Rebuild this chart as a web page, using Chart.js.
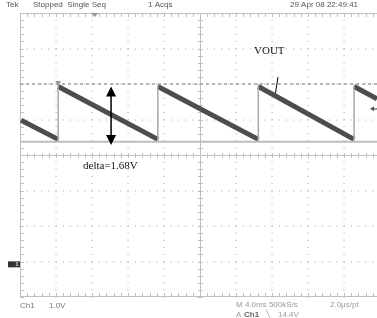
<!DOCTYPE html>
<html>
<head>
<meta charset="utf-8">
<script src="https://cdn.jsdelivr.net/npm/chart.js@4/dist/chart.umd.min.js"></script>
<style>
  html, body { margin: 0; padding: 0; background: #fff; }
  #wrap { width: 377px; height: 318px; }
</style>
</head>
<body>
<div id="wrap"><canvas id="scope" width="377" height="318"></canvas></div>
<script>
// screen: 10 divisions across (only ~9.9 visible), 8 divisions tall, values in divisions
const xDivs = 9.917;
const yDivs = 4;

// falling ramps of VOUT (start / end, in divisions)
const rampStartX = [0.03, 1.06, 3.83, 6.62, 9.28];
const rampEndX   = [1.06, 3.83, 6.62, 9.28, 9.917];
const rampStartV = [0.98, 1.93, 1.93, 1.93, 1.93];
const rampEndV   = [0.44, 0.44, 0.44, 0.44, 1.58];

// vertical reset edges
const riseX = [1.06, 3.83, 6.62, 9.28];
const riseLow = 0.40;
const riseHigh = 1.98;

// cursors
const cursorTop = 2.0;
const cursorBottom = 0.37;

// delta arrow
const arrowX = 2.53;
const arrowTop = 1.93;
const arrowBottom = 0.28;
const deltaLabel = "delta=1.68V";
const traceLabel = "VOUT";

const header = ["Tek", "Stopped  Single Seq", "1 Acqs", "29 Apr 08 22:49:41"];

function rampPoints() {
  const pts = [];
  for (let i = 0; i < rampStartX.length; i++) {
    pts.push({ x: rampStartX[i], y: rampStartV[i] });
    pts.push({ x: rampEndX[i], y: rampEndV[i] });
    pts.push({ x: rampEndX[i], y: null });
  }
  return pts;
}

function risePoints() {
  const pts = [];
  riseX.forEach(x => {
    pts.push({ x, y: riseLow });
    pts.push({ x, y: riseHigh });
    pts.push({ x, y: null });
  });
  return pts;
}

const graticule = {
  id: "graticule",
  beforeDatasetsDraw(chart) {
    const { ctx, chartArea: a } = chart;
    const xs = chart.scales.x, ys = chart.scales.y;
    ctx.save();
    // dotted division lines
    ctx.fillStyle = "#b0b0b0";
    for (let d = 1; d < 10; d++) {
      const px = Math.round(xs.getPixelForValue(d));
      if (d === 5) continue;
      for (let s = 0; s <= 40; s++) {
        const py = ys.getPixelForValue(-4 + s * 0.2);
        ctx.fillRect(px - 0.5, py - 0.5, 1.1, 1.1);
      }
    }
    for (let v = -3; v <= 3; v++) {
      if (v === 0) continue;
      const py = Math.round(ys.getPixelForValue(v));
      for (let s = 0; s <= 50; s++) {
        const px = xs.getPixelForValue(s * 0.2);
        if (px > a.right) break;
        ctx.fillRect(px - 0.5, py - 0.5, 1.1, 1.1);
      }
    }
    // center cross and frame
    ctx.strokeStyle = "#c0c0c0";
    ctx.lineWidth = 1;
    const cx = Math.round(xs.getPixelForValue(5)) + 0.5;
    const cy = Math.round(ys.getPixelForValue(0)) + 0.5;
    ctx.beginPath();
    ctx.moveTo(a.left, cy); ctx.lineTo(a.right, cy);
    ctx.moveTo(cx, a.top); ctx.lineTo(cx, a.bottom);
    ctx.moveTo(a.left + 0.5, a.top); ctx.lineTo(a.left + 0.5, a.bottom);
    ctx.moveTo(a.left, a.top + 0.5); ctx.lineTo(a.right, a.top + 0.5);
    ctx.moveTo(a.left, a.bottom - 0.5); ctx.lineTo(a.right, a.bottom - 0.5);
    ctx.stroke();
    // minor ticks
    ctx.beginPath();
    for (let s = 0; s <= 50; s++) {
      const px = Math.round(xs.getPixelForValue(s * 0.2)) + 0.5;
      if (px > a.right) break;
      ctx.moveTo(px, cy - 2.5); ctx.lineTo(px, cy + 2.5);
      ctx.moveTo(px, a.top); ctx.lineTo(px, a.top + 4);
      ctx.moveTo(px, a.bottom); ctx.lineTo(px, a.bottom - 4);
    }
    for (let s = 0; s <= 40; s++) {
      const py = Math.round(ys.getPixelForValue(-4 + s * 0.2)) + 0.5;
      ctx.moveTo(cx - 2.5, py); ctx.lineTo(cx + 2.5, py);
      ctx.moveTo(a.left, py); ctx.lineTo(a.left + 4, py);
    }
    ctx.stroke();
    ctx.restore();
  },
  afterDatasetsDraw(chart) {
    const { ctx, chartArea: a } = chart;
    const xs = chart.scales.x, ys = chart.scales.y;
    ctx.save();
    // delta arrow
    const ax = xs.getPixelForValue(arrowX);
    const at = ys.getPixelForValue(arrowTop);
    const ab = ys.getPixelForValue(arrowBottom);
    ctx.strokeStyle = "#000";
    ctx.fillStyle = "#000";
    ctx.lineWidth = 1.5;
    ctx.beginPath();
    ctx.moveTo(ax, at + 8); ctx.lineTo(ax, ab - 8);
    ctx.stroke();
    ctx.beginPath();
    ctx.moveTo(ax, at); ctx.lineTo(ax - 5, at + 10); ctx.lineTo(ax + 5, at + 10); ctx.closePath();
    ctx.moveTo(ax, ab); ctx.lineTo(ax - 5, ab - 10); ctx.lineTo(ax + 5, ab - 10); ctx.closePath();
    ctx.fill();

    ctx.font = "11px 'Liberation Serif', serif";
    ctx.textAlign = "left";
    ctx.textBaseline = "middle";
    ctx.fillStyle = "#111";
    ctx.fillText(deltaLabel, 83, 166);
    ctx.fillText(traceLabel, 254, 51);
    ctx.lineWidth = 1;
    ctx.beginPath();
    ctx.moveTo(278, 77); ctx.lineTo(275.5, 93);
    ctx.stroke();

    // trigger markers
    ctx.fillStyle = "#999";
    const tx = xs.getPixelForValue(2.08);
    ctx.beginPath();
    ctx.moveTo(tx - 3.5, a.top); ctx.lineTo(tx + 3.5, a.top); ctx.lineTo(tx, a.top + 4); ctx.closePath();
    ctx.fill();
    const mx = xs.getPixelForValue(1.06), my = ys.getPixelForValue(cursorTop);
    ctx.beginPath();
    ctx.moveTo(mx - 3, my - 3); ctx.lineTo(mx + 3, my - 3); ctx.lineTo(mx, my + 2); ctx.closePath();
    ctx.fill();
    // trigger level
    const ly = ys.getPixelForValue(1.3);
    ctx.fillStyle = "#555";
    ctx.beginPath();
    ctx.moveTo(a.right - 7, ly); ctx.lineTo(a.right - 3, ly - 2.5); ctx.lineTo(a.right - 3, ly + 2.5); ctx.closePath();
    ctx.fill();
    ctx.fillRect(a.right - 4, ly - 0.5, 4, 1.2);
    // channel ground marker
    const gy = ys.getPixelForValue(-3.08);
    ctx.fillStyle = "#333";
    ctx.fillRect(8, gy - 3, 12, 6);
    ctx.fillStyle = "#ddd";
    ctx.font = "bold 6px 'Liberation Sans', sans-serif";
    ctx.textAlign = "center";
    ctx.fillText("1", 17, gy);

    // header and footer readouts
    ctx.font = "8px 'Liberation Sans', sans-serif";
    ctx.textAlign = "left";
    ctx.fillStyle = "#555";
    ctx.fillText(header[0], 6, 5);
    ctx.fillText(header[1], 33, 5);
    ctx.fillText(header[2], 148, 5);
    ctx.fillText(header[3], 290, 5);
    ctx.fillStyle = "#777";
    ctx.fillText("Ch1", 20, 306);
    ctx.fillText("1.0V", 49, 306);
    ctx.fillStyle = "#999";
    ctx.fillText("M 4.0ms 500kS/s", 236, 305);
    ctx.fillText("2.0\u00b5s/pt", 330, 305);
    ctx.fillText("A", 236, 315);
    ctx.fillText("\u2572", 266, 315);
    ctx.fillText("14.4V", 278, 315);
    ctx.fillStyle = "#666";
    ctx.font = "bold 8px 'Liberation Sans', sans-serif";
    ctx.fillText("Ch1", 244, 315);
    ctx.restore();
  }
};

new Chart(document.getElementById("scope"), {
  type: "line",
  data: {
    datasets: [
      {
        data: [{ x: 0, y: cursorBottom }, { x: xDivs, y: cursorBottom }],
        borderColor: "#bdbdbd", borderWidth: 2, pointRadius: 0
      },
      {
        data: [{ x: 0, y: cursorTop }, { x: xDivs, y: cursorTop }],
        borderColor: "#a6a6a6", borderWidth: 1.6, borderDash: [3, 3], pointRadius: 0
      },
      {
        data: risePoints(),
        borderColor: "#a8a8a8", borderWidth: 1.5, pointRadius: 0, spanGaps: false
      },
      {
        data: rampPoints(),
        borderColor: "#4d4d4d", borderWidth: 5, pointRadius: 0, spanGaps: false,
        borderCapStyle: "butt"
      }
    ]
  },
  options: {
    responsive: false,
    devicePixelRatio: 1,
    animation: false,
    layout: { padding: { left: 20, right: 0, top: 13, bottom: 21 } },
    plugins: { legend: { display: false }, tooltip: { enabled: false } },
    scales: {
      x: { type: "linear", min: 0, max: xDivs, display: false },
      y: { type: "linear", min: -yDivs, max: yDivs, display: false }
    }
  },
  plugins: [graticule]
});
</script>
</body>
</html>
